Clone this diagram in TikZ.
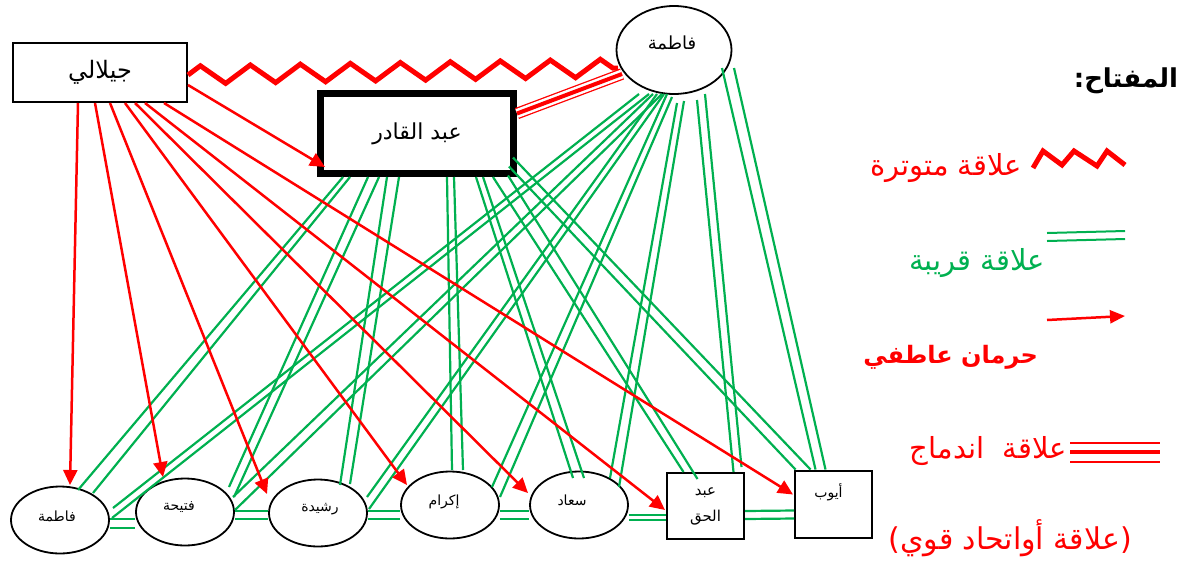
\documentclass[tikz,border=0pt]{standalone}
\usepackage{fontspec}
\usetikzlibrary{shapes.geometric,arrows.meta,calc,decorations.pathmorphing}
\newfontfamily\arabicfont[Script=Arabic]{DejaVu Sans}
\TeXXeTstate=1
\newcommand\artx[1]{{\arabicfont\beginR #1\endR}}
\definecolor{relgreen}{RGB}{0,176,80}
\definecolor{relred}{RGB}{255,0,0}
\tikzset{
  person/.style={draw=black, line width=1.8pt, inner sep=0pt},
  oval/.style={person, ellipse, minimum width=98pt, minimum height=67pt},
  lbl/.style={font=\fontsize{14}{16}\selectfont, inner sep=0pt},
  close/.style={draw=relgreen, line width=2.2pt},
  deprive/.style={draw=relred, line width=2.5pt, -{Triangle[length=15pt,width=14pt]}},
  tense/.style={draw=relred, line width=5pt, line join=miter, decorate,
    decoration={zigzag, segment length=50pt, amplitude=9pt}},
  keytext/.style={inner sep=0pt, font=\fontsize{29}{34}\selectfont}
}
\begin{document}
\begin{tikzpicture}[x=1pt,y=-1pt]
\useasboundingbox (0,0) rectangle (1185,563);

% people
\node[person, minimum width=174pt, minimum height=59pt, font=\fontsize{24}{28}\selectfont] (jil) at (100,72.5) {\artx{جيلالي}};
\node[draw=black, line width=7pt, minimum width=193pt, minimum height=80pt, inner sep=0pt, font=\fontsize{22}{26}\selectfont] (aq) at (417,133.5) {\artx{عبد القادر}};
\node[oval, minimum width=115pt, minimum height=88pt, label={[lbl,font=\fontsize{18}{21}\selectfont,xshift=-2pt,yshift=7pt]center:\artx{فاطمة}}] (fatt) at (674,50) {};

\node[oval, label={[lbl,xshift=-3pt,yshift=4pt]center:\artx{فاطمة}}] (fb) at (60,520) {};
\node[oval, label={[lbl,xshift=-6pt,yshift=5pt]center:\artx{فتيحة}}] (fh) at (185,512) {};
\node[oval, label={[lbl,xshift=2pt,yshift=4pt]center:\artx{رشيدة}}] (rs) at (318,513) {};
\node[oval, label={[lbl,xshift=-6pt,yshift=3pt]center:\artx{إكرام}}] (ik) at (450,505) {};
\node[oval, label={[lbl,xshift=-7pt,yshift=5pt]center:\artx{سعاد}}] (su) at (579,505) {};
\node[person, line width=2pt, minimum width=77pt, minimum height=66pt, align=center, font=\fontsize{15}{18}\selectfont] (ah) at (705.5,506) {\artx{عبد}\\[8pt]\artx{الحق}};
\node[person, line width=2pt, minimum width=77pt, minimum height=67pt, label={[lbl,xshift=-5pt,yshift=12pt]center:\artx{أيوب}}] (ay) at (833.5,504.5) {};

% close relations from Abd al-Qadir
\draw[close] ($(aq)+(-74,43.5)$) -- ($(fb)+(18,-30)$);
\draw[close] ($(aq)+(-67,43.5)$) -- ($(fb)+(33,-27)$);
\draw[close] ($(aq)+(-49,43.5)$) -- ($(fh)+(44,-25)$);
\draw[close] ($(aq)+(-38,43.5)$) -- ($(fh)+(49,-15)$);
\draw[close] ($(aq)+(-30,43.5)$) -- ($(rs)+(22,-28)$);
\draw[close] ($(aq)+(-18,43.5)$) -- ($(rs)+(32,-29)$);
\draw[close] ($(aq)+(30,43.5)$) -- ($(ik)+(2,-35)$);
\draw[close] ($(aq)+(37,43.5)$) -- ($(ik)+(13,-35)$);
\draw[close] ($(aq)+(59,43.5)$) -- ($(su)+(-6,-27)$);
\draw[close] ($(aq)+(66,43.5)$) -- ($(su)+(5,-27)$);
\draw[close] ($(aq)+(76,43.5)$) -- ($(ah)+(-22,-34)$);
\draw[close] ($(aq)+(91,42)$) -- ($(ah)+(-8,-27)$);
\draw[close] ($(aq)+(96,24)$) -- ($(ay)+(-23,-35)$);
\draw[close] ($(aq)+(92,33)$) -- ($(ay)+(-38,-35)$);

% close relations from Fatima
\draw[close] ($(fatt)+(-35,44)$) -- ($(fb)+(53,-12)$);
\draw[close] ($(fatt)+(-25,44)$) -- ($(fb)+(52,-2)$);
\draw[close] ($(fatt)+(-21,44)$) -- ($(fh)+(48,-15)$);
\draw[close] ($(fatt)+(-12,44)$) -- ($(fh)+(50,-2)$);
\draw[close] ($(fatt)+(-17,44)$) -- ($(rs)+(49,-16)$);
\draw[close] ($(fatt)+(-10,44)$) -- ($(rs)+(51,-4)$);
\draw[close] ($(fatt)+(-7,44)$) -- ($(ik)+(42,-18)$);
\draw[close] ($(fatt)+(-2,47)$) -- ($(ik)+(50,-8)$);
\draw[close] ($(fatt)+(3,53)$) -- ($(su)+(31,-27)$);
\draw[close] ($(fatt)+(10,51)$) -- ($(su)+(40,-18)$);
\draw[close] ($(fatt)+(23,50)$) -- ($(ah)+(28,-34)$);
\draw[close] ($(fatt)+(31,44)$) -- ($(ah)+(36,-39)$);
\draw[close] ($(fatt)+(48,18)$) -- ($(ay)+(-18,-35)$);
\draw[close] ($(fatt)+(60,18)$) -- ($(ay)+(-8,-35)$);

% close relations along the row of children
\draw[close] ($(fb)+(50,-1)$) -- ($(fh)+(-50,7)$);
\draw[close] ($(fb)+(50,8)$) -- ($(fh)+(-50,16)$);
\draw[close] ($(fh)+(50,-1)$) -- ($(rs)+(-50,-2)$);
\draw[close] ($(fh)+(50,7)$) -- ($(rs)+(-50,6)$);
\draw[close] ($(rs)+(50,-2)$) -- ($(ik)+(-50,6)$);
\draw[close] ($(rs)+(50,6)$) -- ($(ik)+(-50,14)$);
\draw[close] ($(ik)+(50,6)$) -- ($(su)+(-50,6)$);
\draw[close] ($(ik)+(50,14)$) -- ($(su)+(-50,14)$);
\draw[close] ($(su)+(50,10)$) -- ($(ah)+(-39.5,9)$);
\draw[close] ($(su)+(50,15)$) -- ($(ah)+(-39.5,14)$);
\draw[close] ($(ah)+(39.5,5)$) -- ($(ay)+(-39.5,6)$);
\draw[close] ($(ah)+(39.5,13)$) -- ($(ay)+(-39.5,14)$);

% tense relation Jilali -- Fatima
\draw[tense] ($(jil)+(88,2.5)$) -- ($(fatt)+(-56,18)$);

% fusion Fatima -- Abd al-Qadir
\draw[draw=relred, line width=1.3pt, double=white, double distance=9pt] ($(fatt)+(-52,24)$) -- ($(aq)+(100,-20)$);
\draw[draw=relred, line width=4pt] ($(fatt)+(-52,24)$) -- ($(aq)+(100,-20)$);

% emotional deprivation from Jilali
\draw[deprive] ($(jil)+(-22,30.5)$) -- ($(fb)+(10,-35)$);
\draw[deprive] ($(jil)+(-5,30.5)$) -- ($(fh)+(-22,-35)$);
\draw[deprive] ($(jil)+(10,30.5)$) -- ($(rs)+(-51,-19)$);
\draw[deprive] ($(jil)+(25,30.5)$) -- ($(ik)+(-43,-20)$);
\draw[deprive] ($(jil)+(35,30.5)$) -- ($(su)+(-51,-12)$);
\draw[deprive] ($(jil)+(45,30.5)$) -- ($(ah)+(-40.5,4)$);
\draw[deprive] ($(jil)+(64,30.5)$) -- ($(ay)+(-40.5,-10)$);
\draw[deprive] ($(jil)+(88,12.5)$) -- ($(aq)+(-92,33.5)$);

% key
\node[inner sep=0pt, font=\bfseries\fontsize{26}{30}\selectfont] (keyhead) at (1126,81) {\artx{المفتاح:}};

\draw[relred, line width=5pt, line join=miter] (1033,168) -- (1043,151) -- (1062,165) -- (1074,151) -- (1097,166) -- (1107,151) -- (1125,165);
\node[keytext, text=relred, anchor=east] (ktense) at (1022,168) {\artx{علاقة متوترة}};

\draw[relgreen, line width=2pt] (1047,233) -- (1125,231);
\draw[relgreen, line width=2pt] (1047,241) -- (1125,239);
\node[keytext, text=relgreen, anchor=east] (kclose) at (1045,263) {\artx{علاقة قريبة}};

\draw[relred, line width=2.5pt, -{Triangle[length=15pt,width=13pt]}] (1047,320) -- (1125,316);
\node[keytext, text=relred, anchor=east, font=\bfseries\fontsize{24}{28}\selectfont] (kdeprive) at (1038,357) {\artx{حرمان عاطفي}};

\draw[relred, line width=1.3pt] (1070,443) -- (1160,443);
\draw[relred, line width=4pt] (1070,452) -- (1160,452);
\draw[relred, line width=1.3pt] (1070,462) -- (1160,462);
\node[keytext, text=relred, anchor=east] (kmerge) at (1067,451) {\artx{علاقة~~اندماج}};

\node[keytext, text=relred, font=\fontsize{30}{35}\selectfont] (kunion) at (1010,538) {\artx{(علاقة أواتحاد قوي)}};
\end{tikzpicture}
\end{document}
